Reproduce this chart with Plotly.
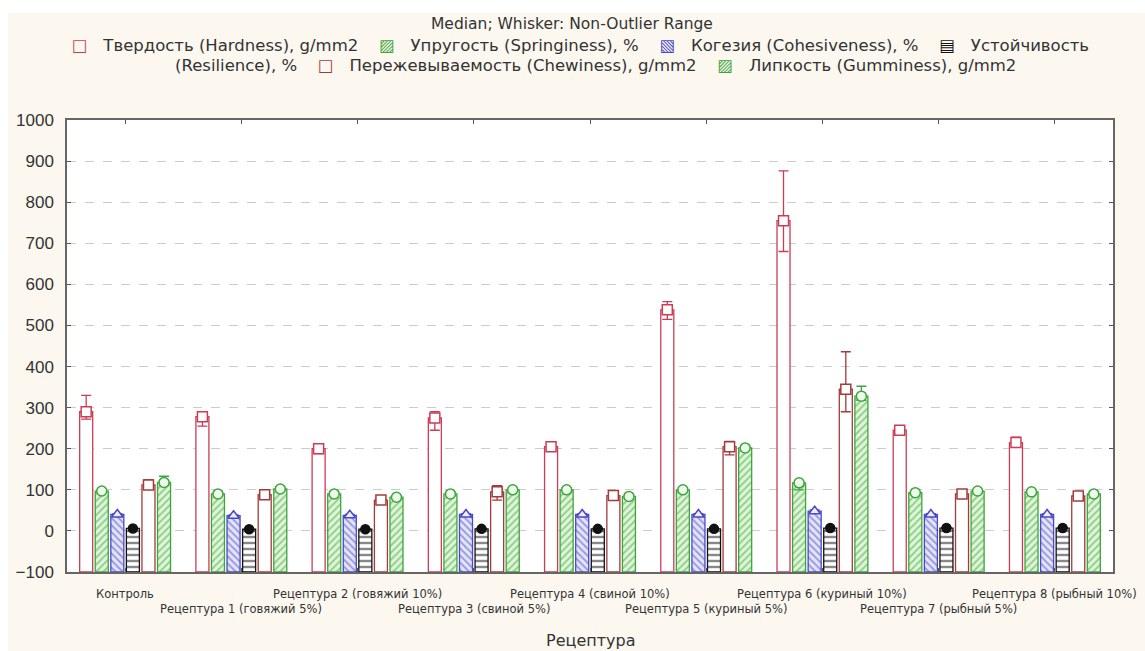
import plotly.graph_objects as go

# ---- data ---------------------------------------------------------------
categories = [
    "Контроль",
    "Рецептура 1 (говяжий 5%)",
    "Рецептура 2 (говяжий 10%)",
    "Рецептура 3 (свиной 5%)",
    "Рецептура 4 (свиной 10%)",
    "Рецептура 5 (куриный 5%)",
    "Рецептура 6 (куриный 10%)",
    "Рецептура 7 (рыбный 5%)",
    "Рецептура 8 (рыбный 10%)",
]

hardness_med = [290, 278, 200, 275, 205, 538, 755, 245, 215]
hardness_min = [272, 255, 188, 245, 200, 515, 680, 240, 210]
hardness_max = [330, 290, 212, 290, 215, 558, 876, 256, 228]

springiness_med = [97, 90, 90, 90, 100, 100, 117, 93, 95]
springiness_min = [94, 87, 87, 87, 97, 97, 100, 90, 92]
springiness_max = [100, 93, 93, 93, 104, 104, 122, 96, 98]

cohesiveness_med = [40, 37, 38, 40, 40, 40, 48, 40, 40]
cohesiveness_min = [38, 35, 36, 38, 38, 38, 45, 38, 38]
cohesiveness_max = [42, 39, 40, 42, 42, 42, 51, 42, 42]

resilience_med = [6, 4, 4, 5, 5, 5, 7, 7, 7]
resilience_min = [5, 3, 3, 4, 4, 4, 6, 6, 6]
resilience_max = [7, 5, 5, 6, 6, 6, 8, 8, 8]

chewiness_med = [112, 88, 75, 95, 86, 205, 345, 90, 85]
chewiness_min = [105, 80, 70, 75, 82, 185, 290, 84, 80]
chewiness_max = [125, 95, 80, 110, 94, 218, 436, 97, 90]

gumminess_med = [118, 102, 82, 100, 84, 202, 328, 97, 90]
gumminess_min = [112, 98, 78, 96, 80, 198, 318, 93, 86]
gumminess_max = [133, 108, 86, 105, 88, 206, 352, 100, 93]

series_names = [
    "Твердость (Hardness), g/mm2",
    "Упругость (Springiness), %",
    "Когезия (Cohesiveness), %",
    "Устойчивость (Resilience), %",
    "Пережевываемость (Chewiness), g/mm2",
    "Липкость (Gumminess), g/mm2",
]

y_min, y_max, y_step = -100, 1000, 100

# ---- styles -------------------------------------------------------------
RED = "#cc3d55"
DARKRED = "#a63a3a"
GREEN = "#3ea53e"
BLUE = "#4848c8"
BLACK = "#111111"

styles = [
    dict(line=RED, fill="white", pattern=None,
         sym="square", mfill="white", mline=RED, msize=10, ecolor=RED),
    dict(line=GREEN, fill="#dff5d8", pattern=dict(shape="/", fgcolor=GREEN, bgcolor="#dff5d8", size=5, solidity=0.35),
         sym="circle", mfill="#effbea", mline=GREEN, msize=10, ecolor=GREEN),
    dict(line=BLUE, fill="#dcdcf6", pattern=dict(shape="\\", fgcolor=BLUE, bgcolor="#e4e4f8", size=5, solidity=0.35),
         sym="triangle-up", mfill="#eeeefc", mline=BLUE, msize=10, ecolor=BLUE),
    dict(line=BLACK, fill="white", pattern=dict(shape="-", fgcolor=BLACK, bgcolor="white", size=6, solidity=0.4),
         sym="circle", mfill=BLACK, mline=BLACK, msize=9, ecolor=BLACK),
    dict(line=DARKRED, fill="white", pattern=None,
         sym="square", mfill="white", mline=DARKRED, msize=10, ecolor=DARKRED),
    dict(line=GREEN, fill="#dff5d8", pattern=dict(shape="/", fgcolor=GREEN, bgcolor="#dff5d8", size=5, solidity=0.35),
         sym="circle", mfill="#effbea", mline=GREEN, msize=10, ecolor=GREEN),
]

medians = [hardness_med, springiness_med, cohesiveness_med, resilience_med, chewiness_med, gumminess_med]
mins = [hardness_min, springiness_min, cohesiveness_min, resilience_min, chewiness_min, gumminess_min]
maxs = [hardness_max, springiness_max, cohesiveness_max, resilience_max, chewiness_max, gumminess_max]

n_groups = len(categories)
n_series = len(series_names)
slot = 0.134        # distance between neighbouring bars inside a group
bar_w = 0.112       # bar width in category units

fig = go.Figure()

# bars rise from the bottom of the value axis up to the median
for k in range(n_series):
    st = styles[k]
    off = (k - (n_series - 1) / 2) * slot
    xs = [i + off for i in range(n_groups)]
    marker = dict(color=st["fill"], line=dict(color=st["line"], width=1.3))
    if st["pattern"] is not None:
        marker["pattern"] = st["pattern"]
    fig.add_trace(go.Bar(
        x=xs, y=[m - y_min for m in medians[k]], base=y_min, width=bar_w,
        marker=marker, name=series_names[k], showlegend=False,
    ))

# median markers with non-outlier range whiskers
for k in range(n_series):
    st = styles[k]
    off = (k - (n_series - 1) / 2) * slot
    xs = [i + off for i in range(n_groups)]
    fig.add_trace(go.Scatter(
        x=xs, y=medians[k], mode="markers", showlegend=False, name=series_names[k],
        marker=dict(symbol=st["sym"], size=st["msize"], color=st["mfill"],
                    line=dict(color=st["mline"], width=1.5)),
        error_y=dict(type="data", symmetric=False,
                     array=[hi - m for hi, m in zip(maxs[k], medians[k])],
                     arrayminus=[m - lo for lo, m in zip(mins[k], medians[k])],
                     color=st["ecolor"], thickness=1.3, width=5),
    ))

W, H = 1145, 651
ML, MR, MT, MB = 67, 32, 120, 79
PW, PH = W - ML - MR, H - MT - MB

def px_x(p):
    return (p - ML) / PW

def px_y(p):
    return (H - MB - p) / PH

CREAM = "#fcf8f0"
shapes = [
    dict(type="rect", xref="paper", yref="paper", layer="below",
         x0=px_x(8), x1=px_x(W), y0=px_y(H), y1=px_y(13),
         fillcolor=CREAM, line=dict(width=0)),
    dict(type="rect", xref="paper", yref="paper", layer="below",
         x0=0, x1=1, y0=0, y1=1, fillcolor="white", line=dict(width=0)),
]

annotations = []
FONT = "Liberation Sans, Arial, DejaVu Sans, sans-serif"
WIDE = "DejaVu Sans, Verdana, sans-serif"
TXT = "#333333"

# staggered category labels
for i, cat in enumerate(categories):
    annotations.append(dict(
        x=i, xref="x", y=0, yref="paper", yanchor="top", xanchor="center",
        yshift=-13 if i % 2 == 0 else -28, showarrow=False, text=cat,
        font=dict(family=WIDE, size=11.5, color=TXT),
    ))

annotations.append(dict(
    x=0.5, xref="paper", y=0, yref="paper", yanchor="middle", yshift=-68,
    showarrow=False, text="Рецептура", font=dict(family=WIDE, size=16, color=TXT),
))

# legend block above the plot
NB = "\u00a0"
sym = [
    ("□", RED), ("▨", GREEN), ("▧", BLUE), ("▤", BLACK), ("□", DARKRED), ("▨", GREEN),
]

def key(k):
    s, c = sym[k]
    return f"<span style='color:{c}'>{s}</span>{NB*3}"

GAP = NB * 4
row1 = (key(0) + series_names[0] + GAP + key(1) + series_names[1] + GAP
        + key(2) + series_names[2] + GAP + key(3) + "Устойчивость")
row2 = ("(Resilience), %" + GAP + key(4) + series_names[4] + GAP
        + key(5) + series_names[5])

annotations.append(dict(
    x=px_x(572), xref="paper", y=px_y(24), yref="paper", xanchor="center", yanchor="middle",
    showarrow=False, text="Median; Whisker: Non-Outlier Range",
    font=dict(family=WIDE, size=15.5, color=TXT),
))
annotations.append(dict(
    x=px_x(580), xref="paper", y=px_y(45), yref="paper", xanchor="center", yanchor="middle",
    showarrow=False, text=row1, font=dict(family=WIDE, size=16.5, color=TXT),
))
annotations.append(dict(
    x=px_x(595), xref="paper", y=px_y(66), yref="paper", xanchor="center", yanchor="middle",
    showarrow=False, text=row2, font=dict(family=WIDE, size=16.5, color=TXT),
))

fig.update_layout(
    width=W, height=H,
    margin=dict(l=ML, r=MR, t=MT, b=MB),
    paper_bgcolor="white", plot_bgcolor="rgba(0,0,0,0)",
    shapes=shapes, annotations=annotations,
    barmode="overlay", showlegend=False,
    xaxis=dict(
        range=[-0.5, n_groups - 0.5], tickvals=list(range(n_groups)), ticktext=[""] * n_groups,
        ticks="inside", ticklen=4, tickcolor="#555", showgrid=False, zeroline=False,
        showline=True, linecolor="#666", linewidth=1.5, mirror="ticks",
    ),
    yaxis=dict(
        range=[y_min, y_max], tick0=y_min, dtick=y_step,
        ticks="inside", ticklen=4, tickcolor="#555", zeroline=False,
        showline=True, linecolor="#666", linewidth=1.5, mirror="ticks",
        showgrid=True, gridcolor="#cccccc", griddash="dash", gridwidth=1,
        tickfont=dict(family=FONT, size=17, color=TXT), ticklabelstandoff=8,
    ),
)

fig.write_html("out.html")
